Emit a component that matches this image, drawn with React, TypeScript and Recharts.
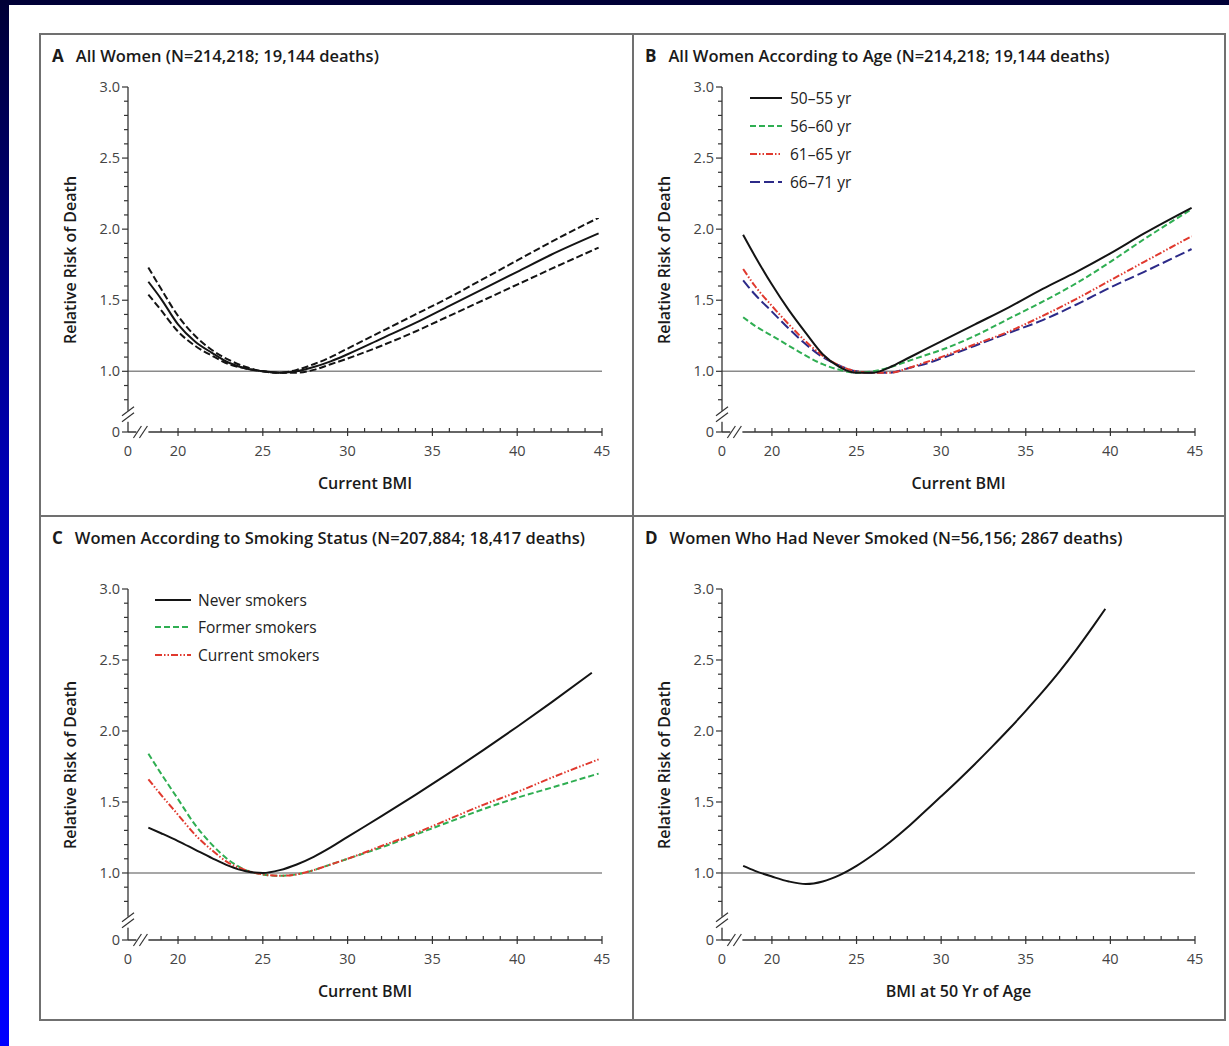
import React from 'react';
import { LineChart, Line, XAxis, YAxis, ReferenceLine } from 'recharts';

const FONT = '"Open Sans", "Liberation Sans", Arial, sans-serif';

// Panel A: all women, estimate with 95% CI
const bmiA = [18.25, 19, 20, 21, 22, 23, 24, 25, 26, 27, 28, 29, 30, 32, 34, 36, 38, 40, 42, 44.8];
const rrA = [1.63, 1.51, 1.33, 1.21, 1.13, 1.06, 1.02, 1.0, 0.99, 1.0, 1.03, 1.07, 1.12, 1.23, 1.34, 1.46, 1.58, 1.7, 1.82, 1.97];
const upperA = [1.73, 1.58, 1.39, 1.25, 1.15, 1.08, 1.03, 1.0, 0.99, 1.01, 1.05, 1.1, 1.16, 1.28, 1.4, 1.52, 1.65, 1.78, 1.91, 2.08];
const lowerA = [1.54, 1.43, 1.28, 1.18, 1.11, 1.05, 1.02, 1.0, 0.99, 0.99, 1.01, 1.05, 1.09, 1.18, 1.28, 1.39, 1.5, 1.61, 1.72, 1.87];

// Panel B: by age group
const bmiB = [18.3, 19, 20, 21, 22, 23, 24, 25, 26, 27, 28, 29, 30, 32, 34, 36, 38, 40, 42, 44.8];
const age50to55 = [1.96, 1.81, 1.61, 1.43, 1.27, 1.12, 1.03, 0.99, 0.99, 1.03, 1.09, 1.15, 1.21, 1.33, 1.45, 1.58, 1.7, 1.83, 1.97, 2.15];
const age56to60 = [1.38, 1.32, 1.25, 1.18, 1.11, 1.05, 1.01, 0.99, 1.0, 1.03, 1.07, 1.11, 1.15, 1.25, 1.37, 1.49, 1.62, 1.77, 1.93, 2.14];
const age61to65 = [1.72, 1.6, 1.46, 1.33, 1.21, 1.11, 1.04, 1.0, 0.99, 0.99, 1.02, 1.06, 1.1, 1.19, 1.28, 1.39, 1.51, 1.64, 1.77, 1.95];
const age66to71 = [1.64, 1.54, 1.42, 1.3, 1.19, 1.1, 1.04, 1.0, 0.99, 0.99, 1.02, 1.05, 1.09, 1.18, 1.27, 1.36, 1.47, 1.59, 1.7, 1.86];

// Panel C: by smoking status
const bmiC = [18.25, 19, 20, 21, 22, 23, 24, 25, 26, 27, 28, 29, 30, 32, 34, 36, 38, 40, 42, 44.8];
const bmiNever = [18.25, 19, 20, 21, 22, 23, 24, 25, 26, 27, 28, 29, 30, 32, 34, 36, 38, 40, 42, 44.4];
const neverSmokers = [1.32, 1.28, 1.225, 1.165, 1.105, 1.05, 1.012, 1.0, 1.02, 1.06, 1.114, 1.18, 1.254, 1.4, 1.55, 1.705, 1.865, 2.03, 2.2, 2.41];
const formerSmokers = [1.84, 1.7, 1.52, 1.34, 1.2, 1.09, 1.02, 0.99, 0.98, 0.99, 1.02, 1.06, 1.1, 1.18, 1.27, 1.36, 1.45, 1.53, 1.6, 1.7];
const currentSmokers = [1.66, 1.55, 1.41, 1.27, 1.16, 1.07, 1.02, 0.99, 0.98, 0.99, 1.02, 1.06, 1.1, 1.19, 1.28, 1.38, 1.48, 1.57, 1.67, 1.8];

// Panel D: never smoked, BMI at age 50
const bmiD = [18.3, 19, 20, 21, 22, 23, 24, 25, 26, 27, 28, 29, 30, 31, 32, 33, 34, 35, 36, 37, 38, 39, 39.7];
const neverD = [1.05, 1.015, 0.975, 0.94, 0.922, 0.94, 0.985, 1.05, 1.13, 1.22, 1.32, 1.43, 1.54, 1.652, 1.768, 1.888, 2.012, 2.142, 2.277, 2.42, 2.575, 2.74, 2.86];

// axis ticks
const xTicks = [19, 20, 21, 22, 23, 24, 25, 26, 27, 28, 29, 30, 31, 32, 33, 34, 35, 36, 37, 38, 39, 40, 41, 42, 43, 44, 45];
const xMajor = [20, 25, 30, 35, 40, 45];
const yTicks = [0.8, 0.9, 1.0, 1.1, 1.2, 1.3, 1.4, 1.5, 1.6, 1.7, 1.8, 1.9, 2.0, 2.1, 2.2, 2.3, 2.4, 2.5, 2.6, 2.7, 2.8, 2.9, 3.0];
const yMajor = [1.0, 1.5, 2.0, 2.5, 3.0];
const X0 = 17.05;
const X_BREAK = 17.9;

const INK = '#333';
const TICK_FONT = 14.5;

type Series = { key: string; name: string; bmi: number[]; rr: number[]; color: string; dash?: string; width?: number };

const toRows = (bmi: number[], rr: number[]) => bmi.map((b, i) => ({ bmi: b, rr: rr[i] }));

const makeYTick = (lower: number, brk: number) => (props: any) => {
  const { x, y, payload } = props;
  const v = payload.value;
  if (v === brk) {
    return (
      <g>
        <rect x={x - 3} y={y - 6} width={6} height={11} fill="#fff" />
        <line x1={x - 6} y1={y - 1} x2={x + 6} y2={y - 10} stroke={INK} strokeWidth={1.2} />
        <line x1={x - 6} y1={y + 5} x2={x + 6} y2={y - 4} stroke={INK} strokeWidth={1.2} />
      </g>
    );
  }
  const isZero = v === lower;
  const major = isZero || yMajor.some((m) => Math.abs(m - v) < 1e-6);
  return (
    <g>
      <line x1={x} y1={y} x2={x - (major ? 6 : 4)} y2={y} stroke={INK} strokeWidth={1.2} />
      {major && (
        <text x={x - 8} y={y} dy="0.35em" textAnchor="end" fontSize={TICK_FONT} fill="#444" fontFamily={FONT}>
          {isZero ? '0' : v.toFixed(1)}
        </text>
      )}
    </g>
  );
};

const XTick = (props: any) => {
  const { x, y, payload } = props;
  const v = payload.value;
  if (v === X_BREAK) {
    return (
      <g>
        <rect x={x - 6} y={y - 3} width={12} height={6} fill="#fff" />
        <line x1={x - 9} y1={y + 6} x2={x - 1} y2={y - 6} stroke={INK} strokeWidth={1.2} />
        <line x1={x - 3} y1={y + 6} x2={x + 5} y2={y - 6} stroke={INK} strokeWidth={1.2} />
      </g>
    );
  }
  if (v === X0) {
    return (
      <text x={x} y={y + 19} dy="0.35em" textAnchor="middle" fontSize={TICK_FONT} fill="#444" fontFamily={FONT}>
        0
      </text>
    );
  }
  const major = xMajor.includes(v);
  return (
    <g>
      <line x1={x} y1={y - 4} x2={x} y2={y + (major ? 4 : 0)} stroke={INK} strokeWidth={1.2} />
      {major && (
        <text x={x} y={y + 19} dy="0.35em" textAnchor="middle" fontSize={TICK_FONT} fill="#444" fontFamily={FONT}>
          {v}
        </text>
      )}
    </g>
  );
};

type LegendRow = { name: string; color: string; dash?: string };

function LegendBox({ left, top, rows, lineW, gap, rowH }: { left: number; top: number; rows: LegendRow[]; lineW: number; gap: number; rowH: number }) {
  return (
    <div style={{ position: 'absolute', left, top }}>
      {rows.map((r) => (
        <div key={r.name} style={{ height: rowH, display: 'flex', alignItems: 'center' }}>
          <svg width={lineW} height={6} style={{ marginRight: gap }}>
            <line x1={0} y1={3} x2={lineW} y2={3} stroke={r.color} strokeWidth={2} strokeDasharray={r.dash} />
          </svg>
          <span style={{ fontSize: 15.5, color: '#222', whiteSpace: 'nowrap' }}>{r.name}</span>
        </div>
      ))}
    </div>
  );
}

type PanelProps = {
  letter: string;
  title: string;
  px: number;
  py: number;
  pw: number;
  ph: number;
  lower: number;
  brk: number;
  series: Series[];
  xLabel: string;
  titleX: number;
  titleY: number;
};

function Panel({ letter, title, px, py, pw, ph, lower, brk, series, xLabel, titleX, titleY }: PanelProps) {
  const ML = 90, MT = 20, MR = 20, MB = 40;
  return (
    <>
      <div style={{ position: 'absolute', left: titleX, top: titleY - 12, whiteSpace: 'nowrap', color: '#1a1a1a', lineHeight: '24px' }}>
        <span style={{ fontSize: 17, fontWeight: 700, marginRight: 12 }}>{letter}</span>
        <span style={{ fontSize: 16.5, fontWeight: 600 }}>{title}</span>
      </div>
      <div
        style={{
          position: 'absolute',
          left: px - 58,
          top: py + ph / 2,
          transform: 'translate(-50%, -50%) rotate(-90deg)',
          whiteSpace: 'nowrap',
          fontSize: 16,
          fontWeight: 600,
          color: '#1a1a1a',
        }}
      >
        Relative Risk of Death
      </div>
      <div
        style={{
          position: 'absolute',
          left: px + pw / 2,
          top: py + ph + 51,
          transform: 'translate(-50%, -50%)',
          whiteSpace: 'nowrap',
          fontSize: 16,
          fontWeight: 600,
          color: '#1a1a1a',
        }}
      >
        {xLabel}
      </div>
      <div style={{ position: 'absolute', left: px - ML, top: py - MT }}>
        <LineChart width={pw + ML + MR} height={ph + MT + MB} margin={{ top: MT, right: MR, left: ML - 40, bottom: MB - 30 }}>
          <XAxis
            type="number"
            dataKey="bmi"
            domain={[X0, 45]}
            ticks={[X0, X_BREAK, ...xTicks]}
            interval={0}
            tick={XTick}
            tickLine={false}
            tickSize={0}
            tickMargin={0}
            height={30}
            allowDataOverflow
            axisLine={{ stroke: INK, strokeWidth: 1.3 }}
          />
          <YAxis
            type="number"
            domain={[lower, 3]}
            ticks={[lower, brk, ...yTicks]}
            interval={0}
            tick={makeYTick(lower, brk)}
            tickLine={false}
            tickSize={0}
            tickMargin={0}
            width={40}
            allowDataOverflow
            axisLine={{ stroke: INK, strokeWidth: 1.3 }}
          />
          <ReferenceLine y={1} stroke="#8a8a8a" strokeWidth={1.6} />
          {series.map((s) => (
            <Line
              key={s.key}
              name={s.name}
              data={toRows(s.bmi, s.rr)}
              dataKey="rr"
              type="monotone"
              stroke={s.color}
              strokeWidth={s.width ?? 2}
              strokeDasharray={s.dash}
              dot={false}
              activeDot={false}
              isAnimationActive={false}
            />
          ))}
        </LineChart>
      </div>
    </>
  );
}

const BLACK = '#141414';
const GREEN = '#2fae52';
const RED = '#e0392e';
const NAVY = '#2c2a88';

const seriesA: Series[] = [
  { key: 'upper', name: 'Upper 95% CI', bmi: bmiA, rr: upperA, color: BLACK, dash: '7 3' },
  { key: 'lower', name: 'Lower 95% CI', bmi: bmiA, rr: lowerA, color: BLACK, dash: '7 3' },
  { key: 'rr', name: 'Relative risk', bmi: bmiA, rr: rrA, color: BLACK },
];

const seriesB: Series[] = [
  { key: 'a66', name: '66–71 yr', bmi: bmiB, rr: age66to71, color: NAVY, dash: '10 4' },
  { key: 'a61', name: '61–65 yr', bmi: bmiB, rr: age61to65, color: RED, dash: '7 2 1.5 2 1.5 2' },
  { key: 'a56', name: '56–60 yr', bmi: bmiB, rr: age56to60, color: GREEN, dash: '6 3' },
  { key: 'a50', name: '50–55 yr', bmi: bmiB, rr: age50to55, color: BLACK },
];

const seriesC: Series[] = [
  { key: 'former', name: 'Former smokers', bmi: bmiC, rr: formerSmokers, color: GREEN, dash: '6 3' },
  { key: 'current', name: 'Current smokers', bmi: bmiC, rr: currentSmokers, color: RED, dash: '7 2 1.5 2 1.5 2' },
  { key: 'never', name: 'Never smokers', bmi: bmiNever, rr: neverSmokers, color: BLACK },
];

const seriesD: Series[] = [{ key: 'neverD', name: 'Never smoked', bmi: bmiD, rr: neverD, color: BLACK }];

const legendB: LegendRow[] = [
  { name: '50–55 yr', color: BLACK },
  { name: '56–60 yr', color: GREEN, dash: '6 3' },
  { name: '61–65 yr', color: RED, dash: '7 2 1.5 2 1.5 2' },
  { name: '66–71 yr', color: NAVY, dash: '10 4' },
];

const legendC: LegendRow[] = [
  { name: 'Never smokers', color: BLACK },
  { name: 'Former smokers', color: GREEN, dash: '6 3' },
  { name: 'Current smokers', color: RED, dash: '7 2 1.5 2 1.5 2' },
];

export default function App() {
  return (
    <div
      style={{
        position: 'absolute',
        left: 0,
        top: 0,
        width: 1229,
        height: 1046,
        overflow: 'hidden',
        fontFamily: FONT,
        background: 'linear-gradient(to bottom, #000036 0%, #0000b4 45%, #0000ff 100%)',
      }}
    >
      <div style={{ position: 'absolute', left: 9, top: 5, width: 1220, height: 1041, background: '#fff' }} />
      <div
        style={{
          position: 'absolute',
          left: 39,
          top: 33,
          width: 1187,
          height: 988,
          border: '2px solid #707070',
          boxSizing: 'border-box',
        }}
      />
      <div style={{ position: 'absolute', left: 632, top: 33, width: 2, height: 988, background: '#707070' }} />
      <div style={{ position: 'absolute', left: 39, top: 515, width: 1187, height: 2, background: '#707070' }} />

      <Panel
        letter="A"
        title="All Women (N=214,218; 19,144 deaths)"
        titleX={52}
        titleY={56}
        px={128}
        py={87}
        pw={474}
        ph={345}
        lower={0.573}
        brk={0.68}
        series={seriesA}
        xLabel="Current BMI"
      />
      <Panel
        letter="B"
        title="All Women According to Age (N=214,218; 19,144 deaths)"
        titleX={645}
        titleY={56}
        px={722}
        py={87}
        pw={473}
        ph={345}
        lower={0.573}
        brk={0.68}
        series={seriesB}
        xLabel="Current BMI"
      />
      <Panel
        letter="C"
        title="Women According to Smoking Status (N=207,884; 18,417 deaths)"
        titleX={52}
        titleY={538}
        px={128}
        py={589}
        pw={474}
        ph={351}
        lower={0.528}
        brk={0.65}
        series={seriesC}
        xLabel="Current BMI"
      />
      <Panel
        letter="D"
        title="Women Who Had Never Smoked (N=56,156; 2867 deaths)"
        titleX={645}
        titleY={538}
        px={722}
        py={589}
        pw={473}
        ph={351}
        lower={0.528}
        brk={0.65}
        series={seriesD}
        xLabel="BMI at 50 Yr of Age"
      />

      <LegendBox left={750} top={84} rows={legendB} lineW={32} gap={8} rowH={28} />
      <LegendBox left={155} top={586} rows={legendC} lineW={36} gap={7} rowH={27.5} />
    </div>
  );
}
